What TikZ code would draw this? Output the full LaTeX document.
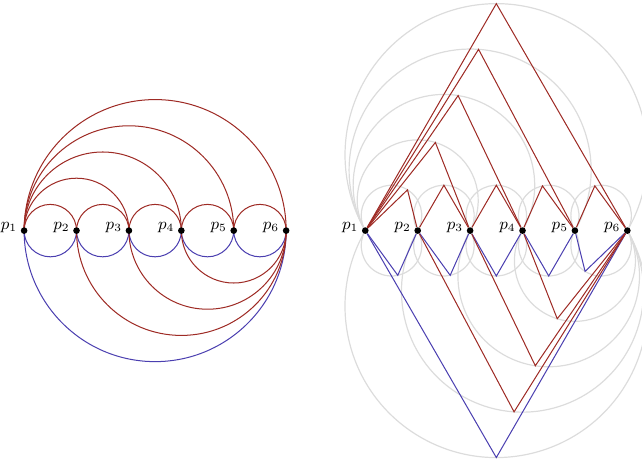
\documentclass[tikz,border=0pt]{standalone}
\usepackage{tikz}
\usetikzlibrary{calc,positioning,backgrounds}
\definecolor{arcred}{HTML}{9E2B25}
\definecolor{arcblue}{HTML}{4B3FB0}
\definecolor{guidegray}{HTML}{DCDCDC}
\tikzset{
  vertex/.style={circle,fill=black,inner sep=0pt,minimum size=3.6pt},
  redarc/.style={draw=arcred,line width=0.55pt},
  bluearc/.style={draw=arcblue,line width=0.55pt},
  guidearc/.style={draw=guidegray,line width=0.65pt},
  every label/.style={inner sep=1.6pt,yshift=1.4pt,font=\small}
}

\begin{document}
\begin{tikzpicture}[node distance=1cm,on grid]
\useasboundingbox (-0.46,-4.42) rectangle (11.79,4.40);
% left: points joined by half circles
\node[vertex,label=left:$p_1$] (a1) at (0,0) {};
\node[vertex,label=left:$p_2$,right=of a1] (a2) {};
\node[vertex,label=left:$p_3$,right=of a2] (a3) {};
\node[vertex,label=left:$p_4$,right=of a3] (a4) {};
\node[vertex,label=left:$p_5$,right=of a4] (a5) {};
\node[vertex,label=left:$p_6$,right=of a5] (a6) {};
% right: the same points, every half circle replaced by a 60 degree wedge
\node[vertex,label=left:$p_1$] (b1) at (6.51,0) {};
\node[vertex,label=left:$p_2$,right=of b1] (b2) {};
\node[vertex,label=left:$p_3$,right=of b2] (b3) {};
\node[vertex,label=left:$p_4$,right=of b3] (b4) {};
\node[vertex,label=left:$p_5$,right=of b4] (b5) {};
\node[vertex,label=left:$p_6$,right=of b5] (b6) {};
% wedge tips above
\coordinate (u12) at ($(b1)!0.5!(b2)+(0,0.2887)+(58:0.5774)$);
\coordinate (u23) at ($(b2)!0.5!(b3)+(0,0.2887)+(90:0.5774)$);
\coordinate (u34) at ($(b3)!0.5!(b4)+(0,0.2887)+(90:0.5774)$);
\coordinate (u45) at ($(b4)!0.5!(b5)+(0,0.2887)+(102:0.5774)$);
\coordinate (u56) at ($(b5)!0.5!(b6)+(0,0.2887)+(102:0.5774)$);
\coordinate (u13) at ($(b1)!0.5!(b3)+(0,0.5774)+(73:1.1547)$);
\coordinate (u14) at ($(b1)!0.5!(b4)+(0,0.8660)+(81:1.7321)$);
\coordinate (u15) at ($(b1)!0.5!(b5)+(0,1.1547)+(86:2.3094)$);
\coordinate (u16) at ($(b1)!0.5!(b6)+(0,1.4434)+(90:2.8868)$);
% wedge tips below
\coordinate (l12) at ($(b1)!0.5!(b2)-(0,0.2887)+(-78:0.5774)$);
\coordinate (l23) at ($(b2)!0.5!(b3)-(0,0.2887)+(-78:0.5774)$);
\coordinate (l34) at ($(b3)!0.5!(b4)-(0,0.2887)+(-90:0.5774)$);
\coordinate (l45) at ($(b4)!0.5!(b5)-(0,0.2887)+(-90:0.5774)$);
\coordinate (l56) at ($(b5)!0.5!(b6)-(0,0.2887)+(-122:0.5774)$);
\coordinate (l46) at ($(b4)!0.5!(b6)-(0,0.5774)+(-107:1.1547)$);
\coordinate (l36) at ($(b3)!0.5!(b6)-(0,0.8660)+(-98.5:1.7321)$);
\coordinate (l26) at ($(b2)!0.5!(b6)-(0,1.1547)+(-94:2.3094)$);
\coordinate (l16) at ($(b1)!0.5!(b6)-(0,1.4434)+(-90:2.8868)$);

\begin{scope}[on background layer]
% half circles above
\draw[redarc] (a1) arc[start angle=180,end angle=0,radius=0.5];
\draw[redarc] (a2) arc[start angle=180,end angle=0,radius=0.5];
\draw[redarc] (a3) arc[start angle=180,end angle=0,radius=0.5];
\draw[redarc] (a4) arc[start angle=180,end angle=0,radius=0.5];
\draw[redarc] (a5) arc[start angle=180,end angle=0,radius=0.5];
\draw[redarc] (a1) arc[start angle=180,end angle=0,radius=1];
\draw[redarc] (a1) arc[start angle=180,end angle=0,radius=1.5];
\draw[redarc] (a1) arc[start angle=180,end angle=0,radius=2];
\draw[redarc] (a1) arc[start angle=180,end angle=0,radius=2.5];
% half circles below
\draw[bluearc] (a1) arc[start angle=180,end angle=360,radius=0.5];
\draw[bluearc] (a2) arc[start angle=180,end angle=360,radius=0.5];
\draw[bluearc] (a3) arc[start angle=180,end angle=360,radius=0.5];
\draw[bluearc] (a4) arc[start angle=180,end angle=360,radius=0.5];
\draw[bluearc] (a5) arc[start angle=180,end angle=360,radius=0.5];
\draw[bluearc] (a1) arc[start angle=180,end angle=360,radius=2.5];
\draw[redarc] (a4) arc[start angle=180,end angle=360,radius=1];
\draw[redarc] (a3) arc[start angle=180,end angle=360,radius=1.5];
\draw[redarc] (a2) arc[start angle=180,end angle=360,radius=2];

% guide circles above
\draw[guidearc] (b2) arc[start angle=-30,end angle=210,radius=0.5774];
\draw[guidearc] (b3) arc[start angle=-30,end angle=210,radius=0.5774];
\draw[guidearc] (b4) arc[start angle=-30,end angle=210,radius=0.5774];
\draw[guidearc] (b5) arc[start angle=-30,end angle=210,radius=0.5774];
\draw[guidearc] (b6) arc[start angle=-30,end angle=210,radius=0.5774];
\draw[guidearc] (b3) arc[start angle=-30,end angle=210,radius=1.1547];
\draw[guidearc] (b4) arc[start angle=-30,end angle=210,radius=1.7321];
\draw[guidearc] (b5) arc[start angle=-30,end angle=210,radius=2.3094];
\draw[guidearc] (b6) arc[start angle=-30,end angle=210,radius=2.8868];
% guide circles below
\draw[guidearc] (b1) arc[start angle=150,end angle=390,radius=0.5774];
\draw[guidearc] (b2) arc[start angle=150,end angle=390,radius=0.5774];
\draw[guidearc] (b3) arc[start angle=150,end angle=390,radius=0.5774];
\draw[guidearc] (b4) arc[start angle=150,end angle=390,radius=0.5774];
\draw[guidearc] (b5) arc[start angle=150,end angle=390,radius=0.5774];
\draw[guidearc] (b4) arc[start angle=150,end angle=390,radius=1.1547];
\draw[guidearc] (b3) arc[start angle=150,end angle=390,radius=1.7321];
\draw[guidearc] (b2) arc[start angle=150,end angle=390,radius=2.3094];
\draw[guidearc] (b1) arc[start angle=150,end angle=390,radius=2.8868];

% wedges above
\draw[redarc] (b1) -- (u12) -- (b2);
\draw[redarc] (b2) -- (u23) -- (b3);
\draw[redarc] (b3) -- (u34) -- (b4);
\draw[redarc] (b4) -- (u45) -- (b5);
\draw[redarc] (b5) -- (u56) -- (b6);
\draw[redarc] (b1) -- (u13) -- (b3);
\draw[redarc] (b1) -- (u14) -- (b4);
\draw[redarc] (b1) -- (u15) -- (b5);
\draw[redarc] (b1) -- (u16) -- (b6);
% wedges below
\draw[bluearc] (b1) -- (l12) -- (b2);
\draw[bluearc] (b2) -- (l23) -- (b3);
\draw[bluearc] (b3) -- (l34) -- (b4);
\draw[bluearc] (b4) -- (l45) -- (b5);
\draw[bluearc] (b5) -- (l56) -- (b6);
\draw[bluearc] (b1) -- (l16) -- (b6);
\draw[redarc] (b4) -- (l46) -- (b6);
\draw[redarc] (b3) -- (l36) -- (b6);
\draw[redarc] (b2) -- (l26) -- (b6);
\end{scope}
\end{tikzpicture}
\end{document}
